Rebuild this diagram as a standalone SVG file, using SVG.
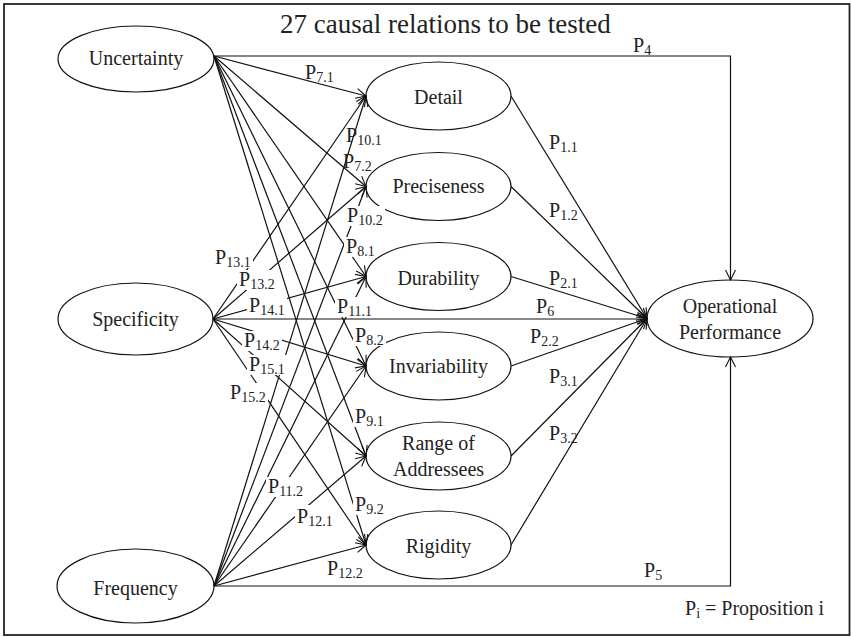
<svg xmlns="http://www.w3.org/2000/svg" width="851" height="637" viewBox="0 0 851 637">
<style>
.n{fill:#fff;stroke:#111;stroke-width:1.2}
.c{fill:none;stroke:#111;stroke-width:1.2}
.t{font-family:"Liberation Serif","Times New Roman",serif;font-size:20px;fill:#222}
.m{text-anchor:middle}
.s{font-size:14px}
.b{fill:#fff;stroke:none}
</style>
<defs>
<marker id="a" markerWidth="12" markerHeight="12" refX="11" refY="6" orient="auto" markerUnits="userSpaceOnUse">
<path d="M1,1 L11,6 L1,11" fill="none" stroke="#111" stroke-width="1.1"/>
</marker>
</defs>
<rect x="4" y="4" width="845.5" height="631" fill="#fff" stroke="#222" stroke-width="1.8"/>
<text class="t" x="280" y="33" style="font-size:27px">27 causal relations to be tested</text>

<g id="uncertainty"><ellipse class="n" cx="136" cy="59" rx="78" ry="33"/><text class="t m" x="136" y="65">Uncertainty</text></g>
<g id="specificity"><ellipse class="n" cx="135.5" cy="319" rx="77.5" ry="36"/><text class="t m" x="135.5" y="326">Specificity</text></g>
<g id="frequency"><ellipse class="n" cx="135.5" cy="586" rx="78.5" ry="37"/><text class="t m" x="135.5" y="595">Frequency</text></g>
<g id="detail"><ellipse class="n" cx="438.5" cy="96" rx="72.5" ry="34"/><text class="t m" x="438.5" y="104">Detail</text></g>
<g id="preciseness"><ellipse class="n" cx="438.5" cy="186.5" rx="72.5" ry="34"/><text class="t m" x="438.5" y="193">Preciseness</text></g>
<g id="durability"><ellipse class="n" cx="438.5" cy="276.5" rx="72.5" ry="34"/><text class="t m" x="438.5" y="285">Durability</text></g>
<g id="invariability"><ellipse class="n" cx="438.5" cy="366" rx="72.5" ry="34"/><text class="t m" x="438.5" y="373">Invariability</text></g>
<g id="range"><ellipse class="n" cx="438.5" cy="456" rx="72.5" ry="34"/><text class="t m" x="438.5" y="450">Range of</text><text class="t m" x="438.5" y="476">Addressees</text></g>
<g id="rigidity"><ellipse class="n" cx="438.5" cy="545" rx="72.5" ry="34"/><text class="t m" x="438.5" y="553">Rigidity</text></g>
<g id="operational"><ellipse class="n" cx="730" cy="318.5" rx="83" ry="38.5"/><text class="t m" x="730" y="313">Operational</text><text class="t m" x="730" y="339">Performance</text></g>

<g id="connectors" class="c">
<path d="M214,56 H730.5 V280" marker-end="url(#a)"/>
<path d="M214,586 H730.5 V357" marker-end="url(#a)"/>
<path d="M213,319 H647" marker-end="url(#a)"/>
<path d="M214,56 L366,96" marker-end="url(#a)"/>
<path d="M214,56 L366,186.5" marker-end="url(#a)"/>
<path d="M214,56 L366,276.5" marker-end="url(#a)"/>
<path d="M214,56 L366,366" marker-end="url(#a)"/>
<path d="M214,56 L366,456" marker-end="url(#a)"/>
<path d="M214,56 L366,545" marker-end="url(#a)"/>
<path d="M213,319 L366,96" marker-end="url(#a)"/>
<path d="M213,319 L366,186.5" marker-end="url(#a)"/>
<path d="M213,319 L366,276.5" marker-end="url(#a)"/>
<path d="M213,319 L366,366" marker-end="url(#a)"/>
<path d="M213,319 L366,456" marker-end="url(#a)"/>
<path d="M213,319 L366,545" marker-end="url(#a)"/>
<path d="M214,586 L366,96" marker-end="url(#a)"/>
<path d="M214,586 L366,186.5" marker-end="url(#a)"/>
<path d="M214,586 L366,276.5" marker-end="url(#a)"/>
<path d="M214,586 L366,366" marker-end="url(#a)"/>
<path d="M214,586 L366,456" marker-end="url(#a)"/>
<path d="M214,586 L366,545" marker-end="url(#a)"/>
<path d="M511,96 L647,318.5" marker-end="url(#a)"/>
<path d="M511,186.5 L647,318.5" marker-end="url(#a)"/>
<path d="M511,276.5 L647,318.5" marker-end="url(#a)"/>
<path d="M511,366 L647,318.5" marker-end="url(#a)"/>
<path d="M511,456 L647,318.5" marker-end="url(#a)"/>
<path d="M511,545 L647,318.5" marker-end="url(#a)"/>
</g>

<g id="label-boxes" class="b">
<rect x="345" y="206" width="40" height="20"/>
<rect x="344" y="237" width="33" height="20"/>
<rect x="213" y="248" width="40" height="20"/>
<rect x="237" y="270" width="40" height="20"/>
<rect x="247" y="296" width="40" height="20"/>
<rect x="335" y="297" width="40" height="20"/>
<rect x="353" y="326" width="33" height="20"/>
<rect x="242" y="331" width="40" height="20"/>
<rect x="247" y="355" width="40" height="20"/>
<rect x="228" y="383" width="40" height="20"/>
<rect x="353" y="407" width="33" height="20"/>
<rect x="266" y="477" width="40" height="20"/>
<rect x="353" y="495" width="33" height="20"/>
<rect x="295" y="505" width="40" height="22"/>
<rect x="325" y="559" width="40" height="20"/>
</g>

<g id="labels" class="t">
<text x="305" y="79">P<tspan class="s" dy="3">7.1</tspan></text>
<text x="346" y="142">P<tspan class="s" dy="3">10.1</tspan></text>
<text x="343" y="168">P<tspan class="s" dy="3">7.2</tspan></text>
<text x="347" y="222">P<tspan class="s" dy="3">10.2</tspan></text>
<text x="346" y="253">P<tspan class="s" dy="3">8.1</tspan></text>
<text x="215" y="264">P<tspan class="s" dy="3">13.1</tspan></text>
<text x="239" y="286">P<tspan class="s" dy="3">13.2</tspan></text>
<text x="249" y="312">P<tspan class="s" dy="3">14.1</tspan></text>
<text x="337" y="313">P<tspan class="s" dy="3">11.1</tspan></text>
<text x="355" y="342">P<tspan class="s" dy="3">8.2</tspan></text>
<text x="244" y="347">P<tspan class="s" dy="3">14.2</tspan></text>
<text x="249" y="371">P<tspan class="s" dy="3">15.1</tspan></text>
<text x="230" y="399">P<tspan class="s" dy="3">15.2</tspan></text>
<text x="355" y="423">P<tspan class="s" dy="3">9.1</tspan></text>
<text x="268" y="493">P<tspan class="s" dy="3">11.2</tspan></text>
<text x="355" y="511">P<tspan class="s" dy="3">9.2</tspan></text>
<text x="297" y="523">P<tspan class="s" dy="3">12.1</tspan></text>
<text x="327" y="575">P<tspan class="s" dy="3">12.2</tspan></text>
<text x="633" y="52">P<tspan class="s" dy="3">4</tspan></text>
<text x="549" y="149">P<tspan class="s" dy="3">1.1</tspan></text>
<text x="549" y="217">P<tspan class="s" dy="3">1.2</tspan></text>
<text x="549" y="285">P<tspan class="s" dy="3">2.1</tspan></text>
<text x="536" y="313">P<tspan class="s" dy="3">6</tspan></text>
<text x="530" y="343">P<tspan class="s" dy="3">2.2</tspan></text>
<text x="549" y="383">P<tspan class="s" dy="3">3.1</tspan></text>
<text x="549" y="440">P<tspan class="s" dy="3">3.2</tspan></text>
<text x="644" y="577">P<tspan class="s" dy="3">5</tspan></text>
<text x="685" y="615">P<tspan class="s" dy="3">i</tspan><tspan dy="-3"> = Proposition i</tspan></text>
</g>
</svg>
